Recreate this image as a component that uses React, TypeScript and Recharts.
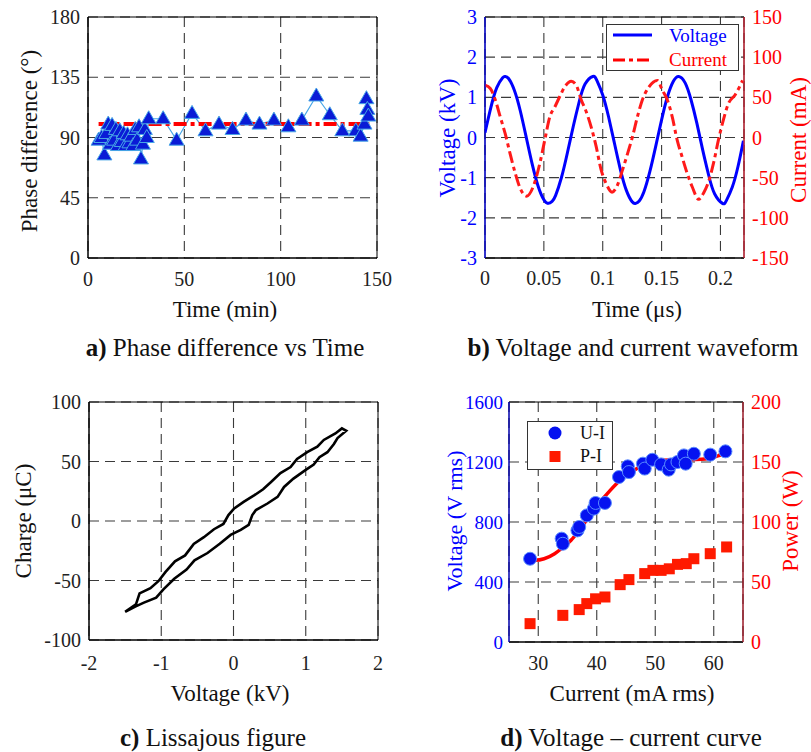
import React from 'react';
import {
  ComposedChart,
  LineChart,
  Line,
  Scatter,
  XAxis,
  YAxis,
  CartesianGrid,
  ReferenceArea,
  Legend,
} from 'recharts';

const FONT = '"Liberation Serif", "Times New Roman", Times, serif';

// ---------- Panel a: Phase difference vs Time ----------
const phaseTime = [5.5, 7, 8.5, 9.5, 10.5, 11.5, 12.5, 13.5, 14.5, 15.5, 16.5, 17.5, 18.5, 19.5, 20.5, 21.5, 22.5, 23.5, 24.5, 25.5, 26.5, 27.5, 28.5, 29.5, 30.5, 31.5, 39, 46, 54, 61, 68, 75, 82, 89, 96.5, 104, 111, 118.5, 125.5, 132, 139, 141.5, 143.5, 144.5, 145, 145.5];
const phaseDeg = [88, 90, 77, 93, 100, 85, 99, 88, 96, 84, 95, 87, 93, 84, 92, 86, 91, 84, 96, 88, 98, 74, 85, 96, 90, 104, 104, 88, 108, 95, 100, 96, 103, 100, 103, 98, 103, 121, 107, 95, 95, 91, 100, 119, 111, 106];
const phaseMeanTime = [5.5, 146];
const phaseMeanDeg = [100, 100];
const phaseXTicks = [0, 50, 100, 150];
const phaseYTicks = [0, 45, 90, 135, 180];

// ---------- Panel b: Voltage and current waveform ----------
const voltageTime = [0, 0.005, 0.01, 0.015, 0.0171, 0.02, 0.025, 0.03, 0.035, 0.04, 0.045, 0.05, 0.0537, 0.057, 0.06, 0.065, 0.07, 0.075, 0.08, 0.085, 0.0916, 0.095, 0.1, 0.105, 0.11, 0.115, 0.12, 0.125, 0.128, 0.131, 0.135, 0.14, 0.145, 0.15, 0.155, 0.16, 0.1646, 0.17, 0.175, 0.18, 0.185, 0.19, 0.195, 0.2017, 0.205, 0.21, 0.215, 0.2195];
const voltageKV = [0.12, 0.75, 1.24, 1.49, 1.52, 1.47, 1.17, 0.66, 0.01, -0.65, -1.2, -1.55, -1.64, -1.59, -1.44, -0.99, -0.38, 0.28, 0.89, 1.33, 1.52, 1.42, 1.06, 0.51, -0.15, -0.8, -1.31, -1.6, -1.64, -1.58, -1.35, -0.85, -0.22, 0.44, 1.02, 1.4, 1.52, 1.36, 0.94, 0.35, -0.32, -0.94, -1.4, -1.64, -1.57, -1.24, -0.71, -0.08];
const currentTime = [0, 0.0045, 0.0087, 0.0129, 0.0171, 0.0213, 0.0256, 0.0298, 0.0354, 0.041, 0.0466, 0.0508, 0.0551, 0.0593, 0.0635, 0.0677, 0.0733, 0.0775, 0.0817, 0.086, 0.0902, 0.0944, 0.0986, 0.1028, 0.1079, 0.1126, 0.1169, 0.1211, 0.1253, 0.1295, 0.1337, 0.1393, 0.1464, 0.1506, 0.1548, 0.159, 0.1632, 0.1674, 0.1716, 0.1759, 0.1815, 0.1857, 0.1899, 0.1941, 0.1983, 0.2025, 0.2067, 0.2124, 0.2188];
const currentMA = [65, 61, 47, 26, 5, -20, -44, -63, -73, -61, -32, -3, 26, 38, 51, 63, 70, 65, 47, 32, 13, -11, -40, -57, -68, -59, -40, -20, 1, 26, 47, 63, 71, 59, 47, 26, -3, -24, -44, -61, -77, -69, -55, -32, -3, 22, 42, 53, 71];
const waveXTicks = [0, 0.05, 0.1, 0.15, 0.2];
const waveVTicks = [-3, -2, -1, 0, 1, 2, 3];
const waveITicks = [-150, -100, -50, 0, 50, 100, 150];

// ---------- Panel c: Lissajous figure ----------
const lissVoltage = [-1.5, -1.35, -1.3, -1.15, -1.04, -0.94, -0.81, -0.67, -0.55, -0.41, -0.27, -0.14, -0.07, 0.01, 0.14, 0.29, 0.41, 0.52, 0.65, 0.79, 0.88, 1.02, 1.16, 1.25, 1.41, 1.5, 1.56, 1.44, 1.39, 1.3, 1.19, 1.11, 0.99, 0.83, 0.7, 0.61, 0.47, 0.31, 0.26, 0.21, 0.1, -0.04, -0.19, -0.36, -0.54, -0.65, -0.82, -0.97, -1.07, -1.24, -1.36, -1.5];
const lissCharge = [-76.4, -70, -60.8, -56.4, -50.6, -42.8, -33.9, -28.9, -19.2, -13.6, -6.9, -2.5, 5, 10.6, 16.1, 21.7, 26.7, 32.8, 40.3, 45.3, 52.2, 57.8, 62.5, 68.1, 73.6, 77.8, 75.8, 69.7, 64.7, 57.8, 53.6, 47.5, 42.5, 35.6, 28.6, 20.3, 14.7, 9.2, 5, -3.3, -7.5, -11.7, -19.2, -26.9, -33.1, -40.8, -48.6, -57.5, -64.4, -68.6, -71.9, -76.4];
const lissXTicks = [-2, -1, 0, 1, 2];
const lissYTicks = [-100, -50, 0, 50, 100];

// ---------- Panel d: Voltage - current curve ----------
const uiCurrent = [28.6, 34.0, 34.2, 36.7, 37.0, 38.3, 39.5, 39.8, 41.4, 43.8, 45.3, 45.5, 47.9, 48.2, 49.5, 51.0, 52.3, 52.7, 53.8, 54.9, 55.2, 56.6, 59.4, 62.0];
const uiVoltage = [555, 689, 655, 744, 767, 844, 889, 927, 927, 1100, 1171, 1133, 1189, 1156, 1215, 1184, 1149, 1184, 1200, 1244, 1189, 1255, 1249, 1271];
const piCurrent = [28.6, 34.2, 37.0, 38.3, 39.8, 41.4, 44.0, 45.5, 48.2, 49.6, 51.0, 52.4, 53.8, 55.3, 56.6, 59.4, 62.2];
const piPower = [15.3, 22.2, 27, 32, 36, 37.5, 47.8, 52, 57, 59.7, 59.7, 61, 64.7, 65.3, 69.4, 73.6, 79.2];
const fitCurrent = [28.4, 29.5, 31.0, 32.8, 34.2, 35.6, 36.8, 37.8, 39.0, 40.1, 41.2, 42.3, 43.5, 44.6, 45.7, 46.8, 48.0, 49.0, 50.2, 51.3, 53.5, 55.7, 57.9, 59.9, 61.0, 62.3];
const fitVoltage = [555, 545, 555, 589, 630, 678, 735, 789, 850, 911, 962, 1011, 1060, 1100, 1130, 1155, 1180, 1200, 1207, 1211, 1215, 1215, 1218, 1229, 1245, 1265];
const dXTicks = [30, 40, 50, 60];
const dVTicks = [0, 400, 800, 1200, 1600];
const dPTicks = [0, 50, 100, 150, 200];

// ---------- derived tables ----------
const phaseData = phaseTime.map((t, i) => ({ t, deg: phaseDeg[i] }));
const phaseMeanData = phaseMeanTime.map((t, i) => ({ t, deg: phaseMeanDeg[i] }));
const voltageData = voltageTime.map((t, i) => ({ t, v: voltageKV[i] }));
const currentData = currentTime.map((t, i) => ({ t, i: currentMA[i] }));
const lissData = lissVoltage.map((v, i) => ({ v, q: lissCharge[i] }));
const uiData = uiCurrent.map((c, i) => ({ c, u: uiVoltage[i] }));
const piData = piCurrent.map((c, i) => ({ c, p: piPower[i] }));
const fitData = fitCurrent.map((c, i) => ({ c, u: fitVoltage[i] }));

const BLUE = '#0000ff';
const RED = '#ff0000';
const GRID = '#3a3a3a';
const DASH = '10 6';
const tick = (fill: string, size = 20) => ({ fontSize: size, fill, fontFamily: FONT });

const Triangle = (props: any) => {
  const { cx, cy } = props;
  if (cx == null || cy == null) return null;
  return (
    <polygon
      points={`${cx},${cy - 8} ${cx - 7.5},${cy + 5} ${cx + 7.5},${cy + 5}`}
      fill="#0a1bd6"
      stroke="#47a6e6"
      strokeWidth={1}
    />
  );
};

const BlueCircle = (props: any) => {
  const { cx, cy } = props;
  return <circle cx={cx} cy={cy} r={6.5} fill="#0512f0" stroke="#5a8cff" strokeWidth={1} />;
};

const RedSquare = (props: any) => {
  const { cx, cy } = props;
  return <rect x={cx - 5.5} y={cy - 5.5} width={11} height={11} fill="#ff1a00" />;
};

const WaveLegend = () => (
  <svg width={134} height={48} style={{ display: 'block', overflow: 'visible' }}>
    <rect x={0.5} y={0.5} width={132} height={46} fill="#fff" stroke="#333" strokeWidth={1} />
    <line x1={7} y1={11} x2={46} y2={11} stroke={BLUE} strokeWidth={3} />
    <text x={63} y={18} fontSize={19} fill={BLUE} fontFamily={FONT}>Voltage</text>
    <line x1={7} y1={36} x2={46} y2={36} stroke={RED} strokeWidth={3} strokeDasharray="12 4 4 4" />
    <text x={63} y={42} fontSize={19} fill={RED} fontFamily={FONT}>Current</text>
  </svg>
);

const CurveLegend = () => (
  <svg width={86} height={49} style={{ display: 'block', overflow: 'visible' }}>
    <rect x={0.5} y={0.5} width={85} height={48} fill="#fff" stroke="#333" strokeWidth={1} />
    <circle cx={28} cy={12} r={6.5} fill="#0512f0" />
    <text x={53} y={18} fontSize={18} fill="#111" fontFamily={FONT}>U-I</text>
    <rect x={22.5} y={30} width={11} height={11} fill="#ff1a00" />
    <text x={53} y={41} fontSize={18} fill="#111" fontFamily={FONT}>P-I</text>
  </svg>
);

const abs = (left: number, top: number): React.CSSProperties => ({ position: 'absolute', left, top });

export default function App() {
  return (
    <div style={{ position: 'absolute', left: 0, top: 0, width: 811, height: 752, background: '#fff', fontFamily: FONT, overflow: 'hidden' }}>
      {/* a) */}
      <div style={abs(0, 0)}>
        <ComposedChart width={420} height={300} margin={{ top: 17, right: 43, left: 0, bottom: 0 }}>
          <CartesianGrid stroke={GRID} strokeDasharray={DASH} strokeWidth={1.1} />
          <XAxis type="number" dataKey="t" domain={[0, 150]} ticks={phaseXTicks} interval={0} height={42}
            tickLine={false} tickMargin={8} axisLine={{ stroke: '#000' }} tick={tick('#222')} allowDataOverflow />
          <YAxis type="number" domain={[0, 180]} ticks={phaseYTicks} interval={0} width={88}
            tickLine={false} axisLine={{ stroke: '#000' }} tick={tick('#222')} allowDataOverflow />
          <ReferenceArea x1={0} x2={150} y1={0} y2={180} fill="none" stroke="#000" strokeWidth={1} ifOverflow="visible" />
          <Line data={phaseData} dataKey="deg" type="linear" stroke="#47a6e6" strokeWidth={1.2}
            dot={<Triangle />} activeDot={false} isAnimationActive={false} />
          <Line data={phaseMeanData} dataKey="deg" type="linear" stroke={RED} strokeWidth={4}
            strokeDasharray="13 4 4 4" dot={false} activeDot={false} isAnimationActive={false} />
        </ComposedChart>
      </div>

      {/* b) */}
      <div style={abs(420, 0)}>
        <LineChart width={391} height={300} margin={{ top: 17, right: 0, left: 0, bottom: 0 }}>
          <CartesianGrid yAxisId="v" stroke={GRID} strokeDasharray={DASH} strokeWidth={1.1} />
          <XAxis type="number" dataKey="t" domain={[0, 0.22]} ticks={waveXTicks} interval={0} height={42}
            tickLine={false} tickMargin={7} axisLine={{ stroke: '#000' }} tick={tick('#222')} allowDataOverflow />
          <YAxis yAxisId="v" orientation="left" type="number" domain={[-3, 3]} ticks={waveVTicks} interval={0} width={65}
            tickLine={false} axisLine={false} tick={tick(BLUE)} allowDataOverflow />
          <YAxis yAxisId="i" orientation="right" type="number" domain={[-150, 150]} ticks={waveITicks} interval={0} width={67}
            tickLine={false} axisLine={false} tick={tick(RED)} allowDataOverflow />
          <ReferenceArea yAxisId="v" x1={0} x2={0.22} y1={-3} y2={3} fill="none" stroke="#000" strokeWidth={1} ifOverflow="visible" />
          <Line yAxisId="v" data={voltageData} dataKey="v" type="natural" stroke={BLUE} strokeWidth={3}
            dot={false} activeDot={false} isAnimationActive={false} />
          <Line yAxisId="i" data={currentData} dataKey="i" type="monotone" stroke="#ff1a1a" strokeWidth={3}
            strokeDasharray="12 4 4 4" dot={false} activeDot={false} isAnimationActive={false} />
          <Legend content={() => <WaveLegend />}
            wrapperStyle={{ position: 'absolute', left: 186, top: 24, width: 0, height: 0, overflow: 'visible' }} />
        </LineChart>
      </div>

      {/* c) */}
      <div style={abs(0, 390)}>
        <LineChart width={420} height={300} margin={{ top: 12, right: 42, left: 0, bottom: 0 }}>
          <CartesianGrid stroke={GRID} strokeDasharray={DASH} strokeWidth={1.1} />
          <XAxis type="number" dataKey="v" domain={[-2, 2]} ticks={lissXTicks} interval={0} height={50}
            tickLine={false} tickMargin={10} axisLine={{ stroke: '#000' }} tick={tick('#222')} allowDataOverflow />
          <YAxis type="number" domain={[-100, 100]} ticks={lissYTicks} interval={0} width={89}
            tickLine={false} axisLine={{ stroke: '#000' }} tick={tick('#222')} allowDataOverflow />
          <ReferenceArea x1={-2} x2={2} y1={-100} y2={100} fill="none" stroke="#000" strokeWidth={1} ifOverflow="visible" />
          <Line data={lissData} dataKey="q" type="linear" stroke="#000" strokeWidth={2.6}
            dot={false} activeDot={false} isAnimationActive={false} />
        </LineChart>
      </div>

      {/* d) */}
      <div style={abs(420, 390)}>
        <ComposedChart width={391} height={300} margin={{ top: 12, right: 0, left: 0, bottom: 0 }}>
          <CartesianGrid yAxisId="u" stroke={GRID} strokeDasharray={DASH} strokeWidth={1.1} />
          <XAxis type="number" dataKey="c" domain={[25, 65]} ticks={dXTicks} interval={0} height={48}
            tickLine={false} tickMargin={8} axisLine={{ stroke: '#000' }} tick={tick('#222')} allowDataOverflow />
          <YAxis yAxisId="u" orientation="left" type="number" domain={[0, 1600]} ticks={dVTicks} interval={0} width={89}
            tickLine={false} tickMargin={0} axisLine={{ stroke: BLUE }} tick={tick(BLUE, 19)} allowDataOverflow />
          <YAxis yAxisId="p" orientation="right" type="number" domain={[0, 200]} ticks={dPTicks} interval={0} width={68}
            tickLine={false} axisLine={{ stroke: '#e8283c' }} tick={tick(RED)} allowDataOverflow />
          <ReferenceArea yAxisId="u" x1={25} x2={65} y1={0} y2={1600} fill="none" stroke="#000" strokeWidth={1} ifOverflow="visible" />
          <Scatter yAxisId="u" data={uiData} dataKey="u" shape={<BlueCircle />} isAnimationActive={false} />
          <Scatter yAxisId="p" data={piData} dataKey="p" shape={<RedSquare />} isAnimationActive={false} />
          <Line yAxisId="u" data={fitData} dataKey="u" type="monotone" stroke={RED} strokeWidth={3.5}
            dot={false} activeDot={false} isAnimationActive={false} />
          <Legend content={() => <CurveLegend />}
            wrapperStyle={{ position: 'absolute', left: 107, top: 31, width: 0, height: 0, overflow: 'visible' }} />
        </ComposedChart>
      </div>

      {/* coloured side axes for b) and all axis titles / captions */}
      <svg width={811} height={752} style={{ position: 'absolute', left: 0, top: 0, pointerEvents: 'none' }}>
        <line x1={485} y1={17} x2={485} y2={258} stroke={BLUE} strokeWidth={1.2} />
        <line x1={744} y1={17} x2={744} y2={258} stroke="#e8283c" strokeWidth={1.2} />

        <g fontFamily={FONT} fill="#111">
          {/* a */}
          <text transform="translate(37,141) rotate(-90)" textAnchor="middle" fontSize={23}>Phase difference (°)</text>
          <text x={225} y={317} textAnchor="middle" fontSize={23}>Time (min)</text>
          <text x={225} y={356} textAnchor="middle" fontSize={25}><tspan fontWeight="bold">a)</tspan> Phase difference vs Time</text>
          {/* b */}
          <text transform="translate(455,138) rotate(-90)" textAnchor="middle" fontSize={23} fill={BLUE}>Voltage (kV)</text>
          <text transform="translate(806,140) rotate(-90)" textAnchor="middle" fontSize={23} fill={RED}>Current (mA)</text>
          <text x={637} y={317} textAnchor="middle" fontSize={23}>Time (μs)</text>
          <text x={633} y={356} textAnchor="middle" fontSize={25}><tspan fontWeight="bold">b)</tspan> Voltage and current waveform</text>
          {/* c */}
          <text transform="translate(31,521) rotate(-90)" textAnchor="middle" fontSize={23}>Charge (μC)</text>
          <text x={230} y={701} textAnchor="middle" fontSize={23}>Voltage (kV)</text>
          <text x={213} y={746} textAnchor="middle" fontSize={25}><tspan fontWeight="bold">c)</tspan> Lissajous figure</text>
          {/* d */}
          <text transform="translate(462,521) rotate(-90)" textAnchor="middle" fontSize={22} fill={BLUE}>Voltage (V rms)</text>
          <text transform="translate(798,521) rotate(-90)" textAnchor="middle" fontSize={23} fill={RED}>Power (W)</text>
          <text x={632} y={701} textAnchor="middle" fontSize={23}>Current (mA rms)</text>
          <text x={631} y={746} textAnchor="middle" fontSize={25}><tspan fontWeight="bold">d)</tspan> Voltage – current curve</text>
        </g>
      </svg>
    </div>
  );
}
